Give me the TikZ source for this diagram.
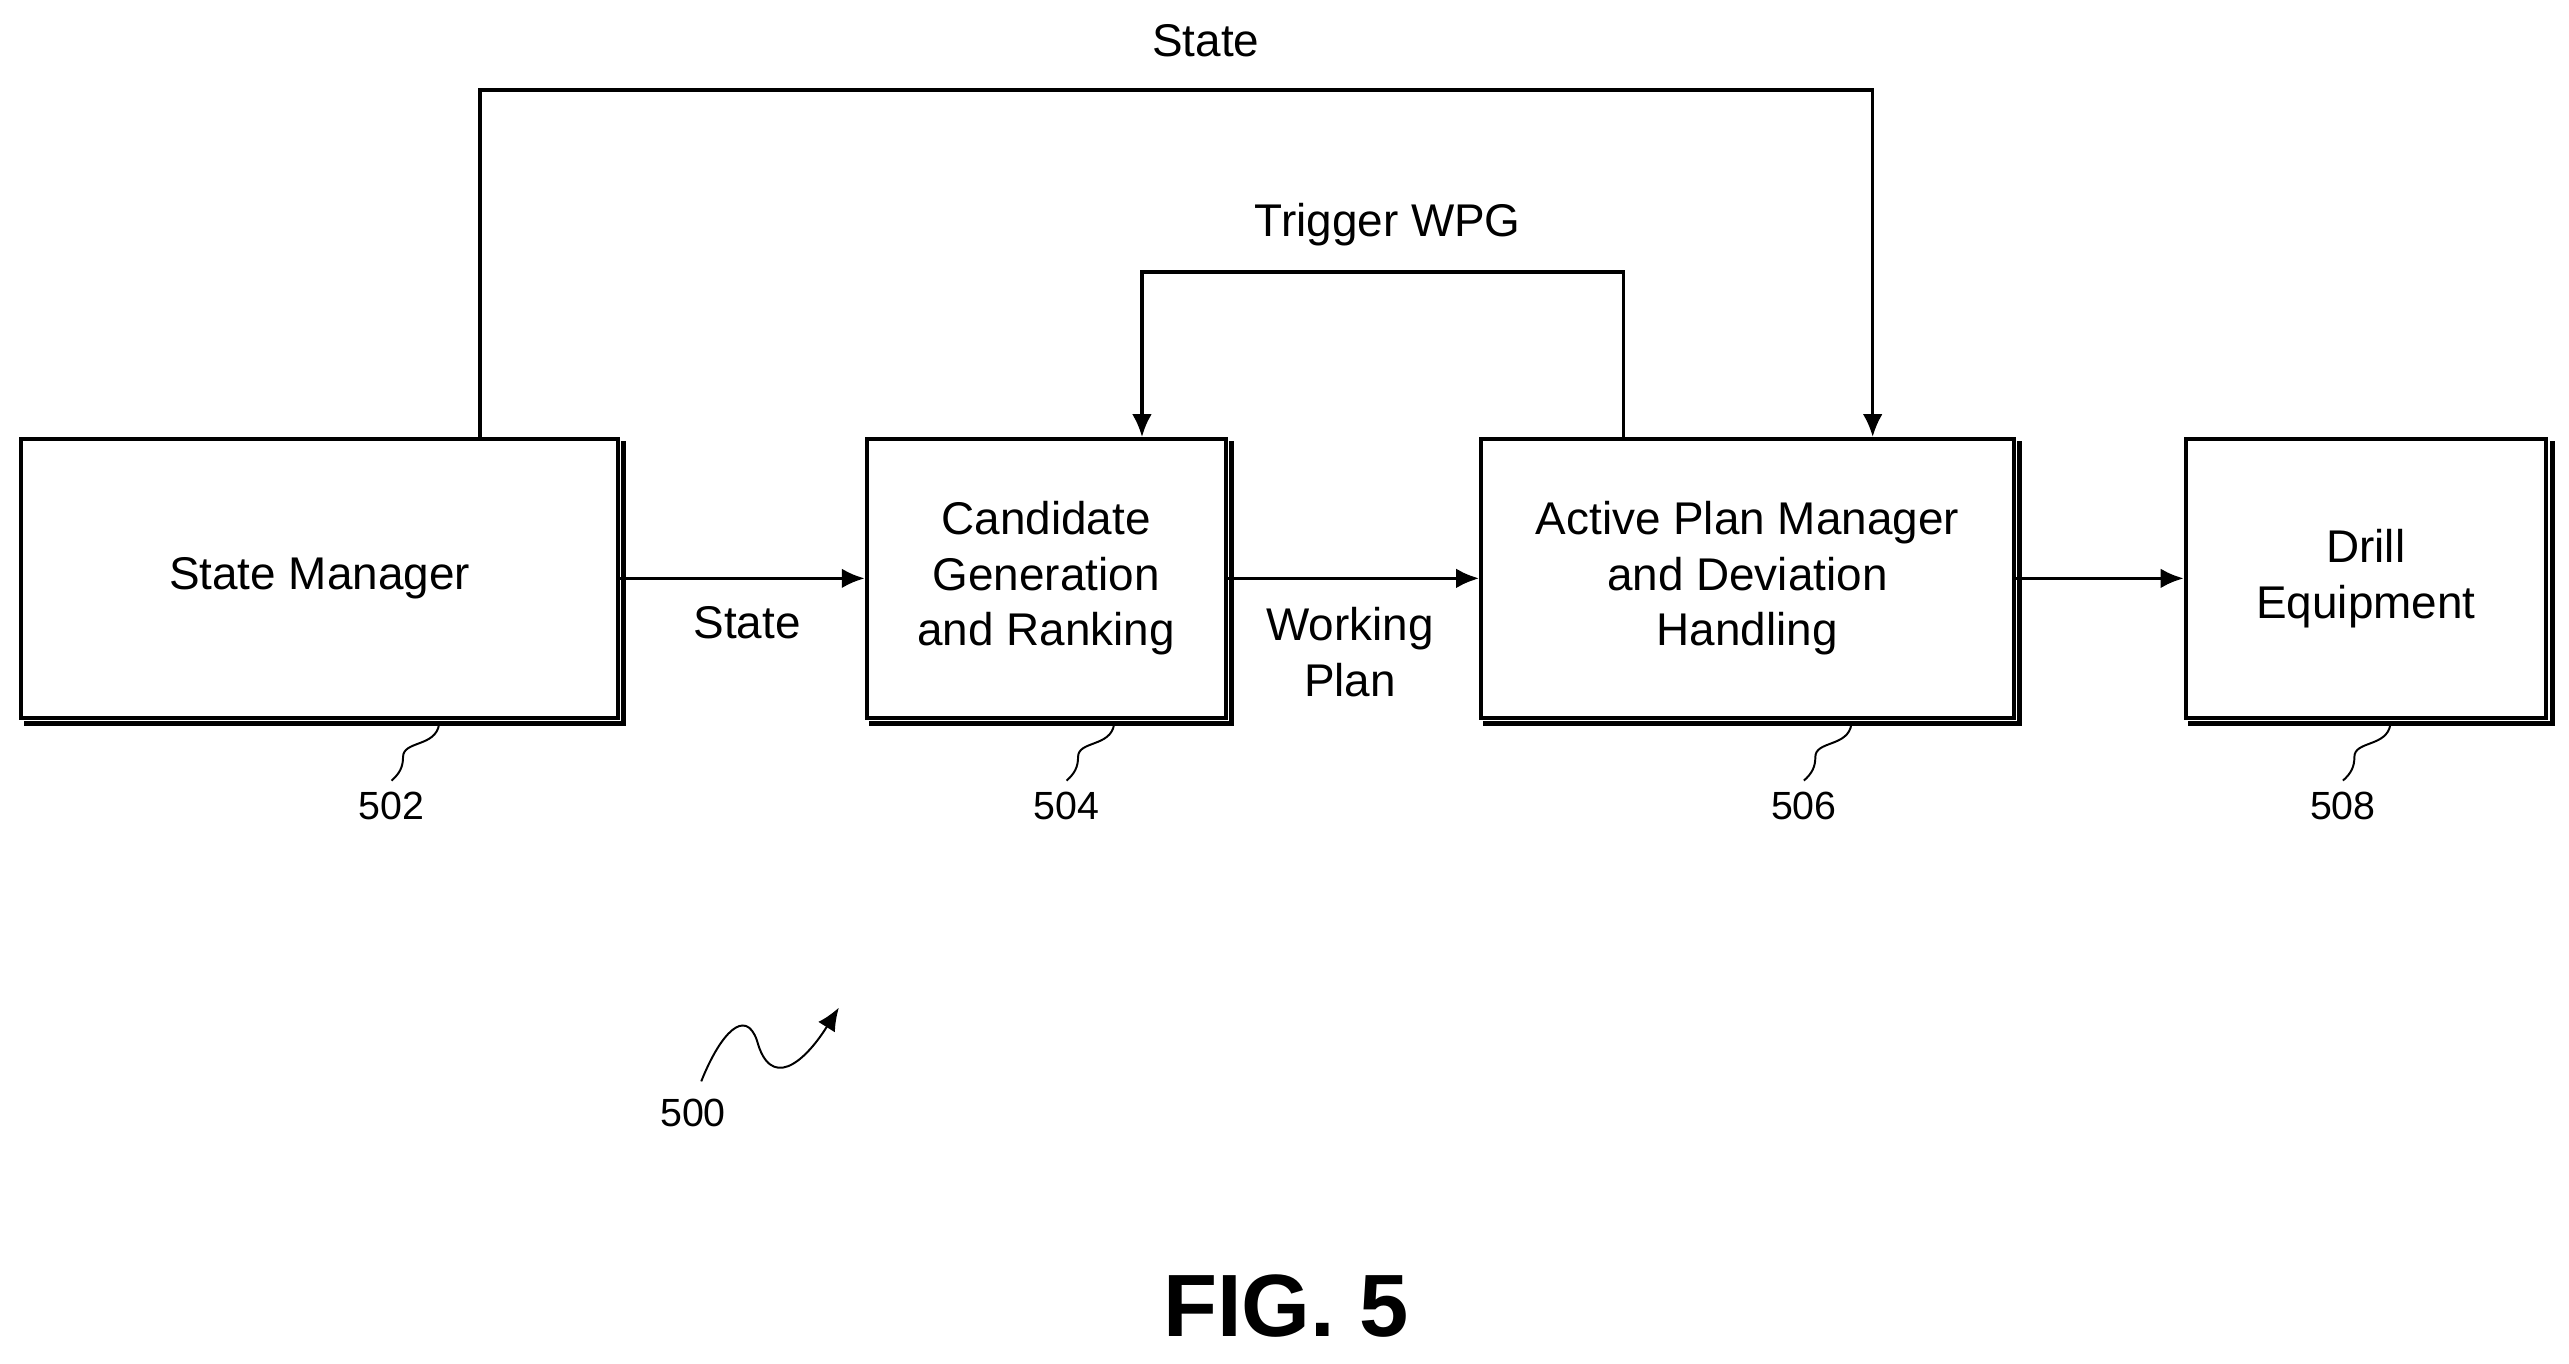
\documentclass[tikz,border=0pt]{standalone}
\usepackage{fontspec}
\setmainfont{Liberation Sans}
\usetikzlibrary{arrows.meta}
\begin{document}
\begin{tikzpicture}[x=0.5pt,y=-0.5pt,
  box/.style={draw,line width=1.2pt,align=center,font=\fontsize{14}{17}\selectfont,inner sep=0pt},
  lbl/.style={font=\fontsize{14}{17}\selectfont,align=center},
  ref/.style={font=\fontsize{12}{14}\selectfont},
  conn/.style={line width=1pt,-{Latex[length=7pt,width=6pt]}},
  lead/.style={line width=0.6pt}]
\useasboundingbox (0,0) rectangle (1568,832);
\node[box,minimum width=182pt,minimum height=85pt] (sm) at (195,353) {State Manager};
\node[box,minimum width=109.5pt,minimum height=85pt] (cg) at (638.5,353) {Candidate\\Generation\\and Ranking};
\node[box,minimum width=162.5pt,minimum height=85pt] (ap) at (1066.5,353) {Active Plan Manager\\and Deviation\\Handling};
\node[box,minimum width=110pt,minimum height=85pt] (de) at (1444,353) {Drill\\Equipment};
\foreach \n in {sm,cg,ap,de}{
  \draw[line width=1.5pt] ([xshift=1.3pt,yshift=-1.3pt]\n.north east) -- ([xshift=1.3pt,yshift=-1.3pt]\n.south east) -- ([xshift=1.3pt,yshift=-1.3pt]\n.south west);}
\draw[conn] (sm.east) -- (cg.west);
\draw[conn] (cg.east) -- (ap.west);
\draw[conn] (ap.east) -- (de.west);
\coordinate (t1) at (293,55); \coordinate (t2) at (1143,55);
\draw[conn] (sm.north -| t1) -- (t1) -- (t2) -- (ap.north -| t2);
\coordinate (w1) at (991,166); \coordinate (w2) at (697,166);
\draw[conn] (ap.north -| w1) -- (w1) -- (w2) -- (cg.north -| w2);
\node[lbl] (l1) at (456,380) {State};
\node[lbl] (l2) at (824,398) {Working\\Plan};
\node[lbl] (l3) at (736,25) {State};
\node[lbl] (l4) at (847,137) {Trigger WPG};
\node[ref] (r502) at (239,492) {502};
\node[ref] (r504) at (651,492) {504};
\node[ref] (r506) at (1101,492) {506};
\node[ref] (r508) at (1430,492) {508};
\foreach \x/\r in {268/r502,680/r504,1130/r506,1459/r508}{
  \draw[lead] (\x,442) .. controls (\x-2,456) and (\x-22,452) .. (\x-22,462) .. controls (\x-22,468) and (\x-24,472) .. (\r.north);}
\node[ref] (r500) at (423,679) {500};
\coordinate (a500) at (512,615);
\draw[lead,-{Latex[length=7pt,width=6pt]}] (428,660) .. controls (440,630) and (455,615) .. (462,635) .. controls (470,665) and (490,650) .. (a500);
\node[font=\fontsize{27}{30}\bfseries] (fig) at (785,797) {FIG. 5};
\end{tikzpicture}
\end{document}
